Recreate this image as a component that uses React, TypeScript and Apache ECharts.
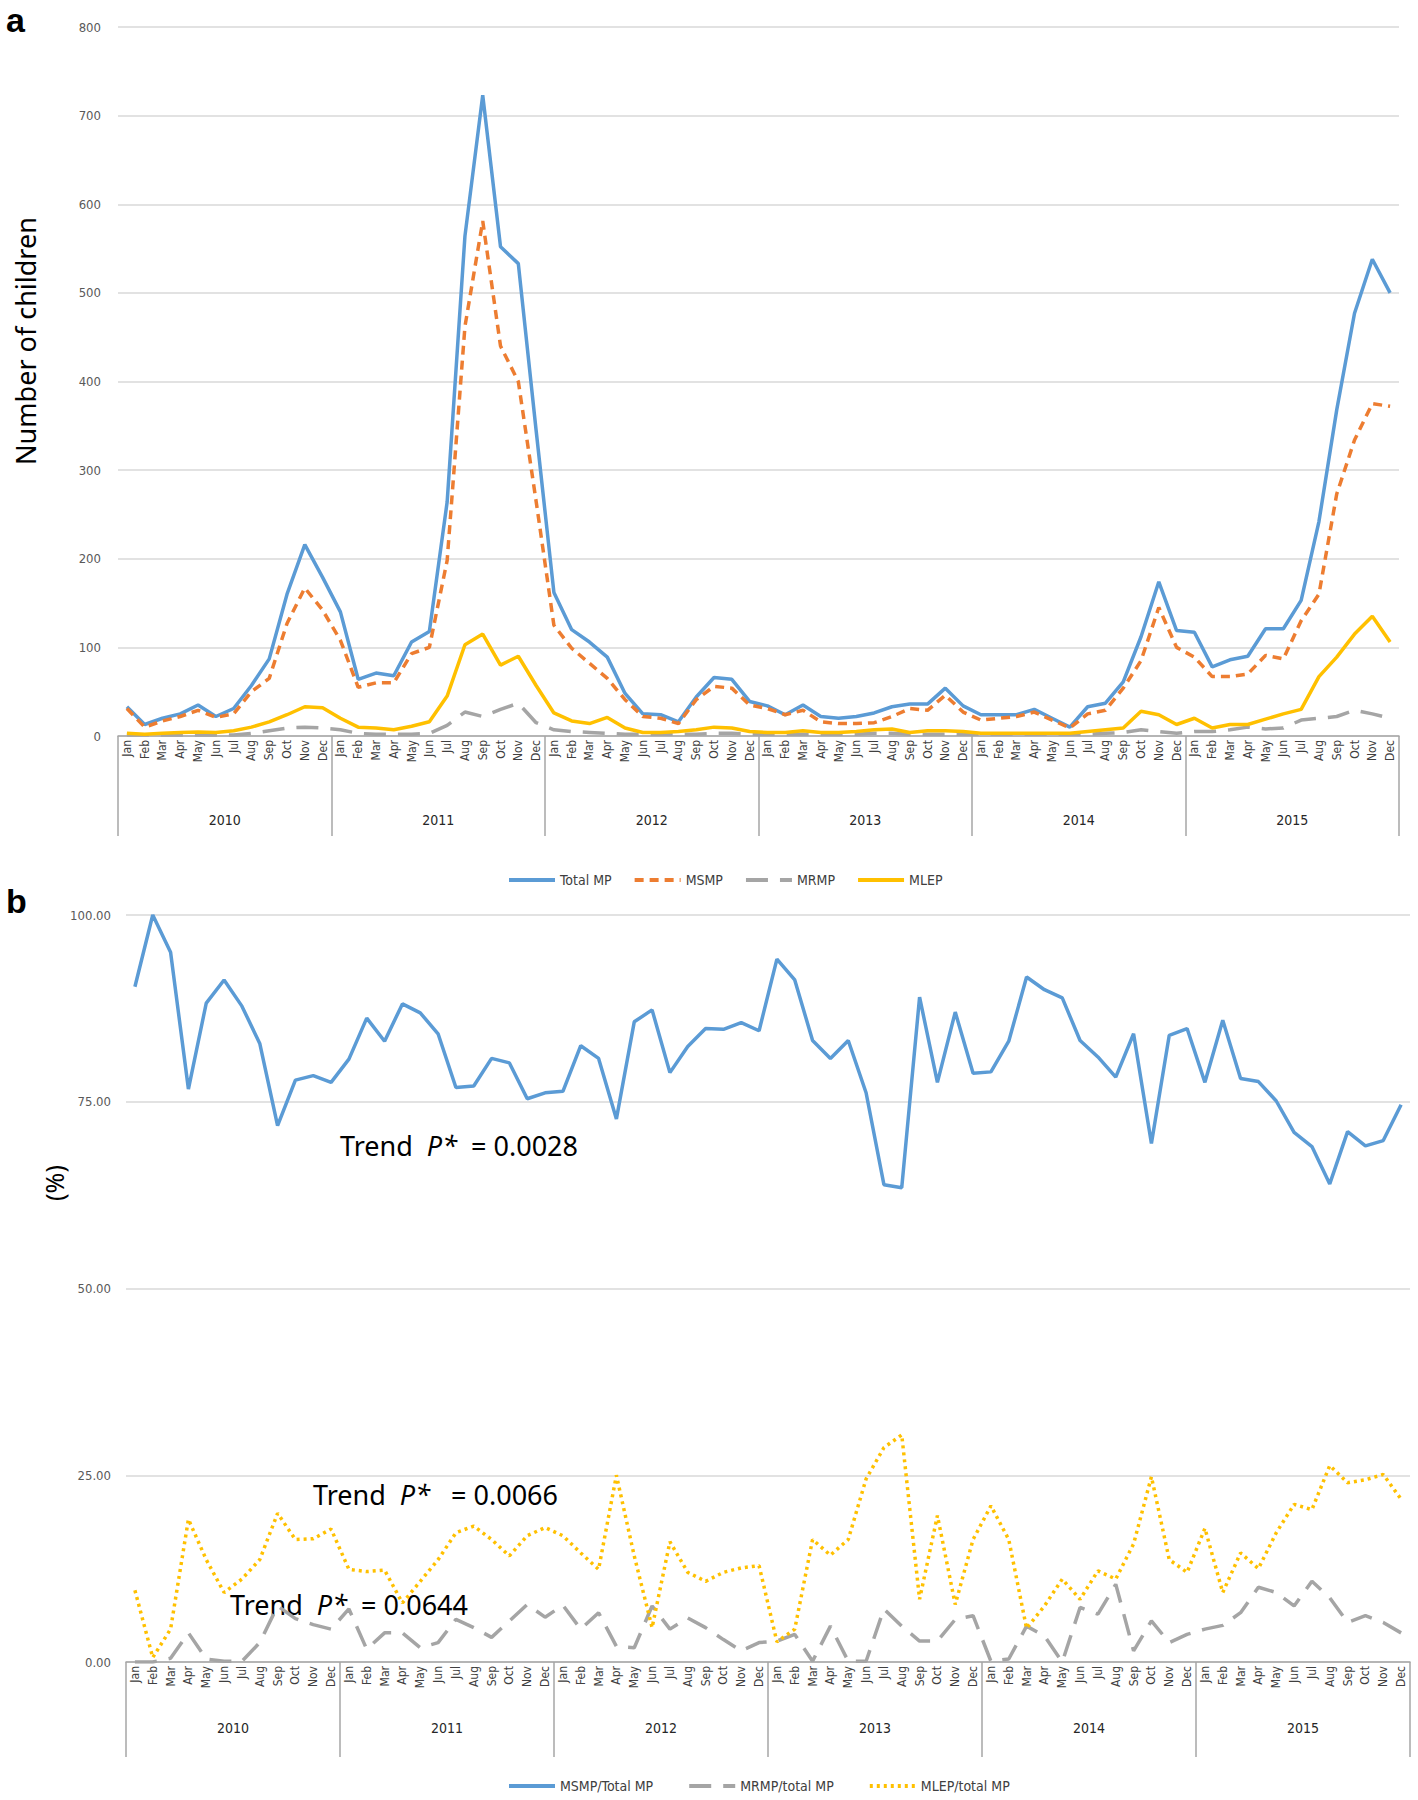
import React, { useEffect, useRef } from "react";
import * as echarts from "echarts";

const months = ["Jan", "Feb", "Mar", "Apr", "May", "Jun", "Jul", "Aug", "Sep", "Oct", "Nov", "Dec"];
const years = ["2010", "2011", "2012", "2013", "2014", "2015"];
const monthCats = years.flatMap((y) => months.map((m) => `${y}-${m}`));

// Panel a: number of children
const totalMP = [
  33, 13, 20, 25, 35, 22, 31, 57, 87, 160, 216, 179,
  140, 64, 71, 68, 106, 118, 264, 564, 723, 552, 533, 345,
  162, 120, 106, 89, 48, 25, 24, 16, 44, 66, 64, 39,
  34, 24, 35, 22, 20, 22, 26, 33, 36, 36, 54, 34,
  24, 24, 24, 30, 20, 10, 33, 37, 61, 112, 174, 119,
  117, 78, 86, 90, 121, 121, 153, 242, 368, 477, 538, 500,
];
const msmp = [
  31, 10, 17, 22, 29, 21, 25, 50, 65, 127, 167, 142,
  108, 55, 60, 60, 93, 100, 198, 462, 581, 440, 400, 265,
  125, 99, 82, 65, 41, 22, 20, 14, 41, 56, 54, 35,
  31, 24, 29, 16, 14, 14, 15, 22, 31, 29, 46, 27,
  18, 20, 22, 27, 18, 9, 25, 29, 54, 85, 145, 100,
  89, 67, 67, 70, 91, 87, 130, 160, 273, 334, 375, 372,
];
const mrmp = [
  1, 1, 1, 1, 1, 1, 1, 3, 6, 9, 10, 9,
  7, 3, 2, 2, 2, 3, 12, 27, 22, 30, 37, 15,
  7, 5, 4, 3, 2, 2, 2, 2, 2, 3, 3, 2,
  2, 2, 2, 2, 2, 2, 3, 3, 2, 2, 2, 2,
  2, 2, 2, 2, 2, 2, 2, 3, 4, 7, 5, 3,
  5, 5, 7, 10, 8, 9, 18, 20, 22, 29, 25, 20,
];
const mlep = [
  3, 2, 3, 4, 4.5, 4, 6, 10, 16, 24, 33, 32,
  20, 10, 9, 7, 11, 16, 45, 103, 115, 80, 90, 57,
  26, 17, 14, 21, 9, 4, 4, 5, 7, 10, 9, 5,
  4, 4, 6, 4, 4, 5, 7, 8, 4, 6, 6, 5,
  3, 3, 3, 3, 3, 3, 5, 7, 9, 28, 24, 13,
  20, 9, 13, 13, 19, 25, 30, 67, 89, 115, 135, 106,
];

// Panel b: proportions (%)
const msmpRatio = [
  90.4, 100, 95.0, 76.7, 88.2, 91.3, 87.8, 82.8, 71.8, 77.9, 78.5, 77.6,
  80.7, 86.2, 83.1, 88.1, 86.9, 84.1, 76.9, 77.1, 80.8, 80.2, 75.4, 76.2,
  76.4, 82.5, 80.8, 72.7, 85.7, 87.3, 78.9, 82.4, 84.8, 84.7, 85.6, 84.5,
  94.1, 91.3, 83.2, 80.8, 83.2, 76.2, 63.9, 63.5, 89.0, 77.6, 87.0, 78.8,
  79.0, 83.1, 91.7, 90.0, 88.9, 83.2, 81.0, 78.3, 84.1, 69.4, 83.9, 84.8,
  77.6, 85.9, 78.1, 77.7, 75.1, 70.9, 69.0, 64.0, 71.0, 69.1, 69.8, 74.6,
];
const mrmpRatio = [
  0, 0, 0.5, 3.9, 0.4, 0.1, 0.1, 2.6, 7.5, 5.8, 5.0, 4.4,
  7.1, 1.7, 3.9, 3.9, 1.9, 2.6, 5.7, 4.6, 3.3, 5.5, 7.7, 6.0,
  7.6, 4.4, 6.6, 2.1, 1.9, 7.5, 4.4, 5.9, 4.6, 3.0, 1.5, 2.6,
  2.8, 3.7, 0.1, 4.8, 0.1, 0.1, 7.1, 4.8, 2.8, 2.8, 5.7, 6.2,
  0.1, 0.4, 4.8, 3.5, 0, 7.3, 6.4, 10.4, 1.5, 5.5, 2.6, 3.7,
  4.4, 4.9, 6.6, 10.0, 9.3, 7.5, 10.8, 8.6, 5.3, 6.2, 5.3, 3.9,
];
const mlepRatio = [
  9.6, 0.6, 4.4, 19.1, 13.7, 9.3, 11.1, 13.7, 19.9, 16.4, 16.5, 17.8,
  12.4, 12.1, 12.3, 7.9, 10.8, 13.7, 17.3, 18.2, 16.4, 14.2, 16.9, 18.0,
  16.9, 14.6, 12.4, 25.0, 14.2, 4.6, 16.1, 12.0, 10.8, 12.0, 12.6, 12.9,
  2.7, 4.4, 16.4, 14.3, 16.4, 24.5, 28.7, 30.4, 8.4, 19.6, 7.7, 16.4,
  20.9, 16.4, 4.5, 7.5, 11.1, 8.4, 12.2, 11.1, 15.8, 24.8, 13.7, 12.0,
  17.9, 9.3, 14.6, 12.5, 17.3, 21.1, 20.4, 26.3, 24.0, 24.4, 25.1, 21.8,
];

const BLUE = "#5b9bd5";
const ORANGE = "#ed7d31";
const GRAY = "#a5a5a5";
const YELLOW = "#ffc000";
const AXIS_GRAY = "#a6a6a6";
const GRID_GRAY = "#d9d9d9";
const NARROW = "'Liberation Sans Narrow', 'DejaVu Sans Condensed', 'Liberation Sans', sans-serif";
const SANS = "'Noto Sans', 'Open Sans', sans-serif";

function monthAxis(gridIndex: number) {
  return {
    type: "category",
    gridIndex,
    data: monthCats,
    boundaryGap: true,
    position: "bottom",
    axisLine: { show: true, lineStyle: { color: AXIS_GRAY, width: 1.5 } },
    axisTick: { show: false },
    axisLabel: {
      interval: 0,
      rotate: 90,
      margin: 4,
      fontSize: 12,
      color: "#404040",
      fontFamily: NARROW,
      formatter: (v: string) => v.split("-")[1],
    },
  };
}

function yearAxis(gridIndex: number, tickLen: number, margin: number) {
  return {
    type: "category",
    gridIndex,
    data: years,
    boundaryGap: true,
    position: "bottom",
    axisLine: { show: false },
    axisTick: { show: true, interval: 0, length: tickLen, lineStyle: { color: AXIS_GRAY, width: 1.5 } },
    axisLabel: { interval: 0, margin, fontSize: 14, color: "#262626", fontFamily: NARROW },
  };
}

function trendText(x: number, y: number, pre: string, post: string) {
  return {
    type: "text",
    x,
    y,
    style: {
      text: `{n|${pre}}{i|P*}{n|${post}}`,
      verticalAlign: "middle",
      rich: {
        n: { fontSize: 27, fontFamily: SANS, fill: "#000" },
        i: { fontSize: 27, fontFamily: SANS, fontStyle: "italic", fill: "#000" },
      },
    },
  };
}

export default function App() {
  const ref = useRef<HTMLDivElement>(null);
  useEffect(() => {
    if (!ref.current) return;
    const chart = echarts.init(ref.current, undefined, { renderer: "svg" });
    const legendBase = {
      itemWidth: 46,
      itemHeight: 14,
      itemStyle: { opacity: 0 },
      lineStyle: { width: 4 },
      textStyle: { fontSize: 14, color: "#404040", fontFamily: NARROW },
    };
    const option: any = {
      animation: false,
      backgroundColor: "#ffffff",
      grid: [
        { left: 118, top: 27, width: 1281, height: 709 },
        { left: 126, top: 915, width: 1284, height: 747 },
      ],
      xAxis: [monthAxis(0), yearAxis(0, 100, 77), monthAxis(1), yearAxis(1, 95, 59)],
      yAxis: [
        {
          type: "value",
          gridIndex: 0,
          min: 0,
          max: 800,
          interval: 100,
          axisLine: { show: false },
          axisTick: { show: false },
          splitLine: { lineStyle: { color: GRID_GRAY, width: 1.5 } },
          axisLabel: { margin: 17, fontSize: 13, color: "#595959", fontFamily: NARROW },
        },
        {
          type: "value",
          gridIndex: 1,
          min: 0,
          max: 100,
          interval: 25,
          axisLine: { show: false },
          axisTick: { show: false },
          splitLine: { lineStyle: { color: GRID_GRAY, width: 1.5 } },
          axisLabel: {
            margin: 15,
            fontSize: 13,
            color: "#595959",
            fontFamily: NARROW,
            formatter: (v: number) => v.toFixed(2),
          },
        },
      ],
      legend: [
        {
          ...legendBase,
          left: 502,
          top: 868,
          itemGap: 21,
          data: ["Total MP", "MSMP", "MRMP", "MLEP"],
        },
        {
          ...legendBase,
          left: 502,
          top: 1774,
          itemGap: 34,
          data: ["MSMP/Total MP", "MRMP/total MP", "MLEP/total MP"],
        },
      ],
      series: [
        {
          name: "Total MP", type: "line", xAxisIndex: 0, yAxisIndex: 0, data: totalMP,
          symbol: "none", color: BLUE, lineStyle: { color: BLUE, width: 3.5 },
        },
        {
          name: "MSMP", type: "line", xAxisIndex: 0, yAxisIndex: 0, data: msmp,
          symbol: "none", color: ORANGE, lineStyle: { color: ORANGE, width: 3.5, type: [9, 6] },
        },
        {
          name: "MRMP", type: "line", xAxisIndex: 0, yAxisIndex: 0, data: mrmp,
          symbol: "none", color: GRAY, lineStyle: { color: GRAY, width: 3.5, type: [22, 12] },
        },
        {
          name: "MLEP", type: "line", xAxisIndex: 0, yAxisIndex: 0, data: mlep,
          symbol: "none", color: YELLOW, lineStyle: { color: YELLOW, width: 3.5 },
        },
        {
          name: "MSMP/Total MP", type: "line", xAxisIndex: 2, yAxisIndex: 1, data: msmpRatio,
          symbol: "none", color: BLUE, lineStyle: { color: BLUE, width: 3.5 },
        },
        {
          name: "MRMP/total MP", type: "line", xAxisIndex: 2, yAxisIndex: 1, data: mrmpRatio,
          symbol: "none", color: GRAY, lineStyle: { color: GRAY, width: 3.5, type: [22, 12] },
        },
        {
          name: "MLEP/total MP", type: "line", xAxisIndex: 2, yAxisIndex: 1, data: mlepRatio,
          symbol: "none", color: YELLOW, lineStyle: { color: YELLOW, width: 3.5, type: [3, 4] },
        },
      ],
      graphic: [
        { type: "text", x: 6, y: 20, style: { text: "a", fontSize: 34, fontWeight: "bold", fontFamily: "'Liberation Sans', sans-serif", fill: "#000", verticalAlign: "middle" } },
        { type: "text", x: 6, y: 901, style: { text: "b", fontSize: 34, fontWeight: "bold", fontFamily: "'Liberation Sans', sans-serif", fill: "#000", verticalAlign: "middle" } },
        {
          type: "text", x: 25, y: 341, rotation: Math.PI / 2,
          style: { text: "Number of children", fontSize: 27, fontFamily: SANS, fill: "#000", align: "center", verticalAlign: "middle" },
        },
        {
          type: "text", x: 54, y: 1183, rotation: Math.PI / 2,
          style: { text: "(%)", fontSize: 25, fontFamily: SANS, fill: "#000", align: "center", verticalAlign: "middle" },
        },
        trendText(340, 1145, "Trend  ", "  = 0.0028"),
        trendText(313, 1494, "Trend  ", "   = 0.0066"),
        trendText(230, 1604, "Trend  ", "  = 0.0644"),
      ],
    };
    chart.setOption(option);
    return () => chart.dispose();
  }, []);
  return (
    <div
      ref={ref}
      style={{ position: "absolute", left: 0, top: 0, width: 1418, height: 1800, background: "#fff" }}
    />
  );
}
